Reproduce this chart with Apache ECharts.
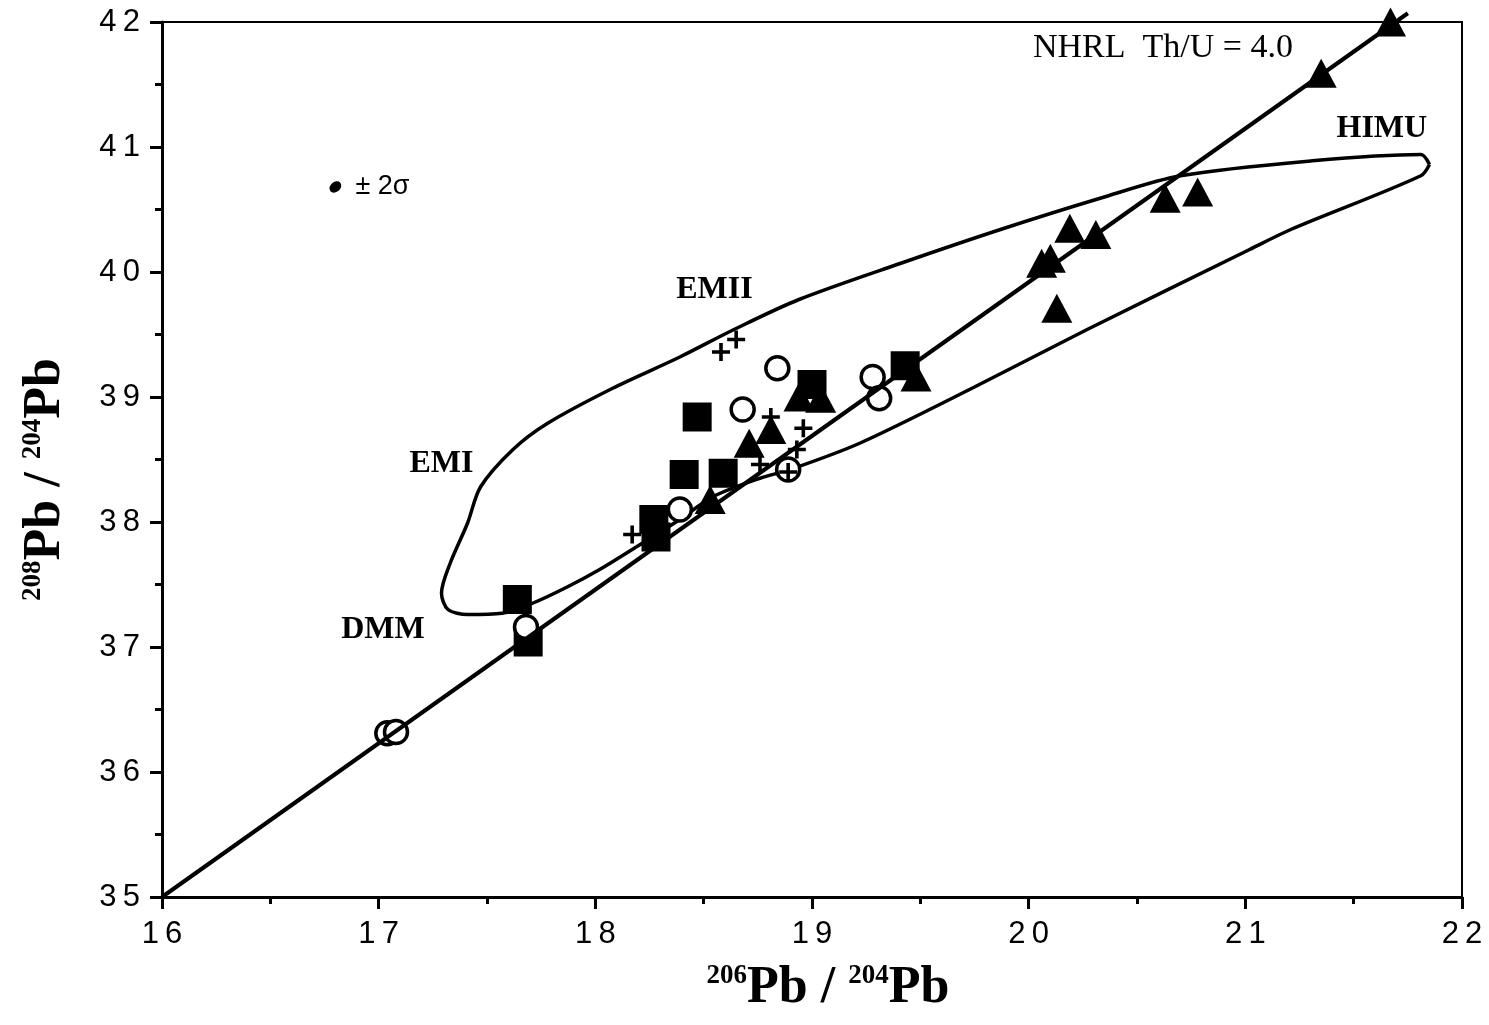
<!DOCTYPE html>
<html lang="en">
<head>
  <meta charset="UTF-8">
  <title>208Pb/204Pb vs 206Pb/204Pb</title>
  <script src="https://cdn.jsdelivr.net/npm/echarts@6/dist/echarts.min.js"></script>
</head>
<body style="margin:0;background:#fff">
<div id="main" style="width:1489px;height:1025px;"></div>
<script>
  // samples as [206Pb/204Pb, 208Pb/204Pb]
  var triangles = [
    [21.67, 42.0], [21.35, 41.59], [20.63, 40.59], [20.78, 40.64], [20.19, 40.35],
    [20.31, 40.30], [20.06, 40.07], [20.10, 40.11], [20.13, 39.71], [19.48, 39.16],
    [18.94, 39.00], [19.04, 38.99], [18.71, 38.63], [18.81, 38.74], [18.53, 38.18]
  ];
  var squares = [
    [18.47, 38.84], [18.41, 38.38], [18.59, 38.39], [18.27, 38.02], [18.28, 37.88],
    [19.43, 39.25], [17.64, 37.38], [17.69, 37.04], [19.00, 39.10]
  ];
  var circles = [
    [17.04, 36.31], [17.08, 36.32], [17.68, 37.16], [18.39, 38.10], [18.68, 38.90],
    [18.84, 39.23], [18.89, 38.42], [19.28, 39.16], [19.31, 38.99]
  ];
  var crosses = [
    [18.58, 39.36], [18.65, 39.46], [18.17, 37.90], [18.81, 38.84], [18.96, 38.75],
    [18.93, 38.58], [18.76, 38.46], [18.89, 38.40]
  ];

  // northern hemisphere reference line, Th/U = 4.0
  var nhrl = [[16, 35], [21.75, 42.07]];

  // mantle end-member field (DMM, EMI, EMII, HIMU), starts at the HIMU tip
  var envelope = [
    [21.85, 40.86], [21.81, 40.94], [21.31, 40.89], [20.70, 40.77], [20.33, 40.59],
    [19.87, 40.34], [19.41, 40.07], [18.94, 39.78], [18.64, 39.54], [18.39, 39.32],
    [18.08, 39.07], [17.78, 38.79], [17.62, 38.58], [17.47, 38.28], [17.41, 37.99],
    [17.33, 37.67], [17.29, 37.43], [17.32, 37.30], [17.41, 37.26], [17.57, 37.27],
    [17.71, 37.35], [17.87, 37.48], [18.02, 37.62], [18.17, 37.78], [18.39, 38.02],
    [18.54, 38.20], [18.76, 38.35], [18.90, 38.42], [19.22, 38.63], [19.75, 39.08],
    [20.27, 39.54], [21.02, 40.18], [21.21, 40.34], [21.81, 40.77], [21.85, 40.86]
  ];

  var fieldNames = ['HIMU', 'EMII', 'EMI', 'DMM'];
  var fieldPos = [[21.63, 41.15], [18.55, 39.86], [17.29, 38.47], [17.02, 37.14]];
  var lineNote = ['NHRL  Th/U = 4.0'];
  var lineNotePos = [[20.02, 41.79]];
  var errorPos = [[16.80, 40.68]];

  var serif = '"Liberation Serif", "DejaVu Serif", serif';
  var sans = '"Liberation Sans", Arial, sans-serif';

  var labelData = fieldNames.map(function (n, i) {
    return { value: fieldPos[i], name: n };
  });

  var myChart = echarts.init(document.getElementById('main'));

  function spaced(v) {
    return String(v).split('').join('\u2009');
  }

  var nameRich = {
    sup: { fontFamily: serif, fontWeight: 'bold', fontSize: 27, color: '#000', verticalAlign: 'top', padding: [0, 0, 22, 0] },
    pb: { fontFamily: serif, fontWeight: 'bold', fontSize: 52, color: '#000' }
  };

  var option = {
    backgroundColor: '#fff',
    animation: false,
    grid: {
      left: 162,
      right: 27,
      top: 22,
      bottom: 128,
      show: true,
      borderColor: '#000',
      borderWidth: 2
    },
    xAxis: {
      type: 'value',
      min: 16,
      max: 22,
      interval: 1,
      name: '{sup|206}{pb|Pb / }{sup|204}{pb|Pb}',
      nameLocation: 'middle',
      nameGap: 66,
      nameTextStyle: { rich: nameRich, padding: [0, 0, 0, 32] },
      axisLine: { lineStyle: { color: '#000', width: 3 } },
      axisTick: { length: 12, lineStyle: { width: 3 } },
      minorTick: { show: true, splitNumber: 2, length: 7, lineStyle: { color: '#000', width: 3 } },
      splitLine: { show: false },
      axisLabel: {
        margin: 22,
        fontFamily: sans,
        fontSize: 31,
        color: '#000',
        formatter: spaced
      }
    },
    yAxis: {
      type: 'value',
      min: 35,
      max: 42,
      interval: 1,
      name: '{sup|208}{pb|Pb / }{sup|204}{pb|Pb}',
      nameLocation: 'middle',
      nameGap: 90,
      nameTextStyle: { rich: nameRich, padding: [0, 40, 0, 0] },
      axisLine: { lineStyle: { color: '#000', width: 3 } },
      axisTick: { length: 12, lineStyle: { width: 3 } },
      minorTick: { show: true, splitNumber: 2, length: 7, lineStyle: { color: '#000', width: 3 } },
      splitLine: { show: false },
      axisLabel: {
        margin: 22,
        fontFamily: sans,
        fontSize: 31,
        color: '#000',
        formatter: spaced
      }
    },
    series: [
      {
        name: 'envelope',
        type: 'line',
        data: envelope,
        smooth: 0.3,
        showSymbol: false,
        silent: true,
        lineStyle: { color: '#000', width: 3.5 },
        z: 2
      },
      {
        name: 'squares',
        type: 'scatter',
        data: squares,
        symbol: 'rect',
        symbolSize: 29,
        itemStyle: { color: '#000', opacity: 1 },
        z: 3
      },
      {
        name: 'circles',
        type: 'scatter',
        data: circles,
        symbol: 'circle',
        symbolSize: 23,
        itemStyle: { color: '#fff', borderColor: '#000', borderWidth: 3.5, opacity: 1 },
        z: 4
      },
      {
        name: 'NHRL',
        type: 'line',
        data: nhrl,
        clip: false,
        showSymbol: false,
        silent: true,
        lineStyle: { color: '#000', width: 4 },
        z: 5
      },
      {
        name: 'triangles',
        type: 'scatter',
        data: triangles,
        symbol: 'triangle',
        symbolSize: [31, 29],
        itemStyle: { color: '#000', opacity: 1 },
        z: 6
      },
      {
        name: 'crosses',
        type: 'scatter',
        data: crosses,
        symbol: 'path://M4,0H6V4H10V6H6V10H4V6H0V4H4Z',
        symbolSize: 18,
        itemStyle: { color: '#000', opacity: 1 },
        z: 7
      },
      {
        name: 'error',
        type: 'scatter',
        data: errorPos,
        symbol: 'circle',
        symbolSize: [13, 10],
        symbolRotate: 40,
        itemStyle: { color: '#000', opacity: 1 },
        label: {
          show: true,
          position: 'right',
          distance: 12,
          formatter: '± 2σ',
          fontFamily: sans,
          fontSize: 27,
          color: '#000'
        },
        z: 7
      },
      {
        name: 'fields',
        type: 'scatter',
        data: labelData,
        symbolSize: 0,
        silent: true,
        itemStyle: { opacity: 1 },
        label: {
          show: true,
          position: 'inside',
          formatter: '{b}',
          fontFamily: serif,
          fontWeight: 'bold',
          fontSize: 32,
          color: '#000'
        },
        z: 8
      },
      {
        name: 'note',
        type: 'scatter',
        data: lineNotePos,
        symbolSize: 0,
        silent: true,
        itemStyle: { opacity: 1 },
        label: {
          show: true,
          position: 'right',
          distance: 0,
          formatter: lineNote[0],
          fontFamily: serif,
          fontSize: 34,
          color: '#000'
        },
        z: 8
      }
    ]
  };

  myChart.setOption(option);
</script>
</body>
</html>
